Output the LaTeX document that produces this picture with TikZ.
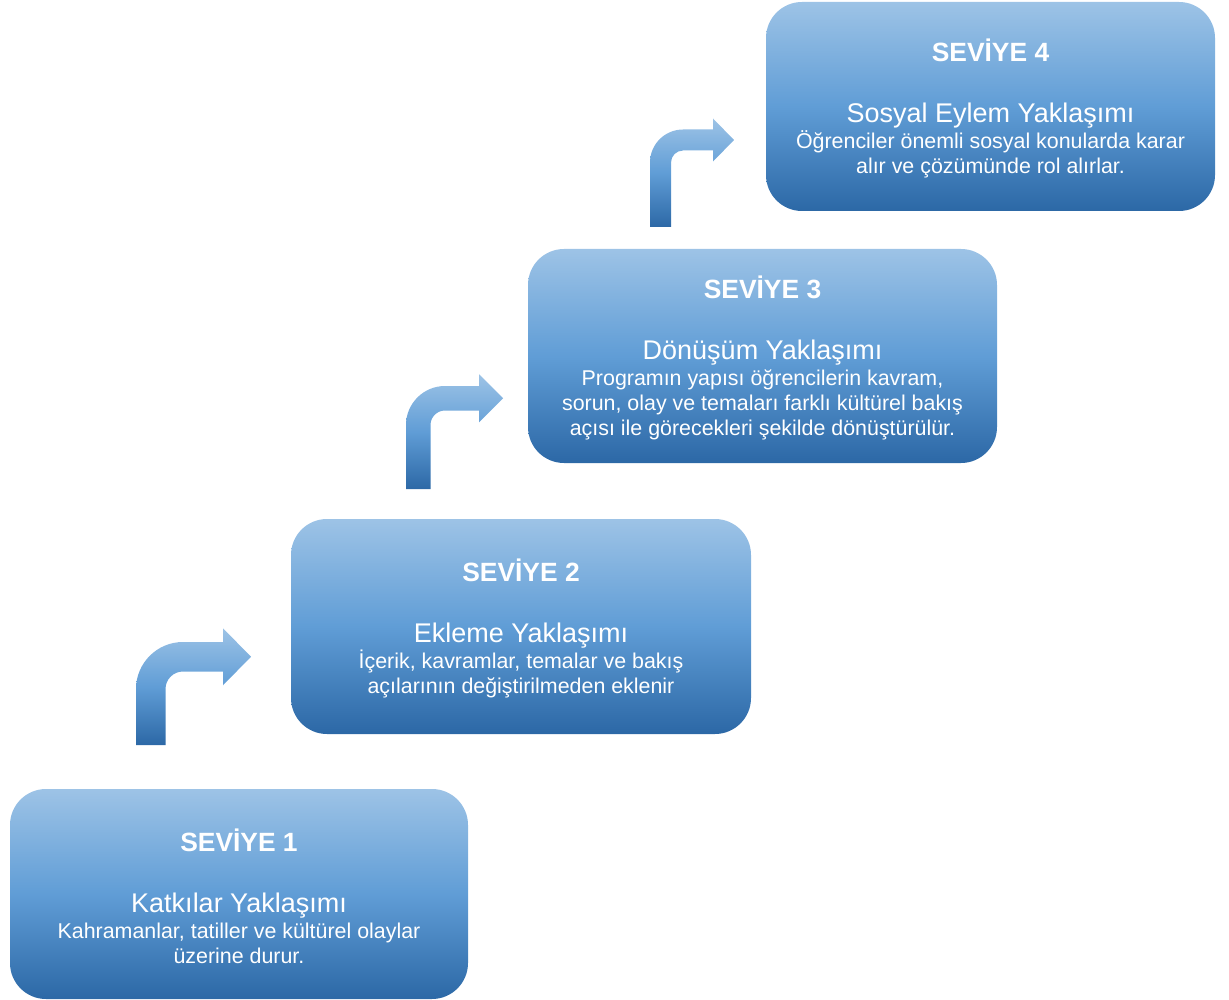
\documentclass[tikz,border=0pt]{standalone}
\usepackage{fontspec}
\setmainfont{Liberation Sans}
\usetikzlibrary{shapes,arrows}
\usetikzlibrary{calc}
\definecolor{boxtop}{RGB}{157,195,230}
\definecolor{boxmid}{RGB}{96,157,214}
\definecolor{boxbot}{RGB}{44,104,166}
\tikzstyle{levelbox} = [rectangle, rounded corners=36pt, inner sep=0pt, top color=boxtop, bottom color=boxbot, middle color=boxmid, text=white, align=center, font=\fontsize{21.4}{25}\selectfont]
\tikzstyle{bendarrow} = [top color=boxtop, bottom color=boxbot, middle color=boxmid]
\newcommand{\seviye}[1]{{\fontsize{26.4}{25}\selectfont\bfseries\rule{0pt}{27pt}SEVİYE #1}\\[36pt]}
\newcommand{\baslik}[1]{{\fontsize{27}{25}\selectfont #1}\\[1pt]}
% x left, y bottom, width, y top, head base, tip, head half, radius
\newcommand{\bentarrow}[8]{%
 \path[bendarrow] (#1,#2) -- (#1,{#4+#8}) .. controls (#1,{#4+0.448*#8}) and ({#1+0.448*#8},#4) .. ({#1+#8},#4) -- (#5,#4) -- (#5,{#4+#3/2-#7}) -- (#6,{#4+#3/2}) -- (#5,{#4+#3/2+#7}) -- (#5,{#4+#3}) -- ({#1+#8},{#4+#3}) .. controls ({#1+#3+0.448*(#8-#3)},{#4+#3}) and ({#1+#3},{#4+#3+0.448*(#8-#3)}) .. ({#1+#3},{#4+#8}) -- ({#1+#3},#2) -- cycle;}

\begin{document}
\begin{tikzpicture}[x=1pt,y=-1pt]
 \useasboundingbox (0,0) rectangle (1229,1000);
 \node[levelbox, minimum width=458pt, minimum height=210pt] (lvl1) at (239,894) {\seviye{1}\baslik{Katkılar Yaklaşımı}Kahramanlar, tatiller ve kültürel olaylar\\üzerine durur.};
 \node[levelbox, minimum width=460pt, minimum height=215pt] (lvl2) at (521,626.5) {\seviye{2}\baslik{Ekleme Yaklaşımı}İçerik, kavramlar, temalar ve bakış\\açılarının değiştirilmeden eklenir};
 \node[levelbox, minimum width=469pt, minimum height=214pt] (lvl3) at (762.5,356) {\seviye{3}\baslik{Dönüşüm Yaklaşımı}Programın yapısı öğrencilerin kavram,\\sorun, olay ve temaları farklı kültürel bakış\\açısı ile görecekleri şekilde dönüştürülür.};
 \node[levelbox, minimum width=449pt, minimum height=209pt] (lvl4) at (990.5,106.5) {\seviye{4}\baslik{Sosyal Eylem Yaklaşımı}Öğrenciler önemli sosyal konularda karar\\alır ve çözümünde rol alırlar.};
 \bentarrow{136}{745}{29.5}{642}{223}{251}{28.5}{47}
 \bentarrow{406}{489}{24.5}{386}{479}{503}{24}{39}
 \bentarrow{650}{227}{21}{129.5}{713}{734}{21.5}{33}
\end{tikzpicture}
\end{document}
